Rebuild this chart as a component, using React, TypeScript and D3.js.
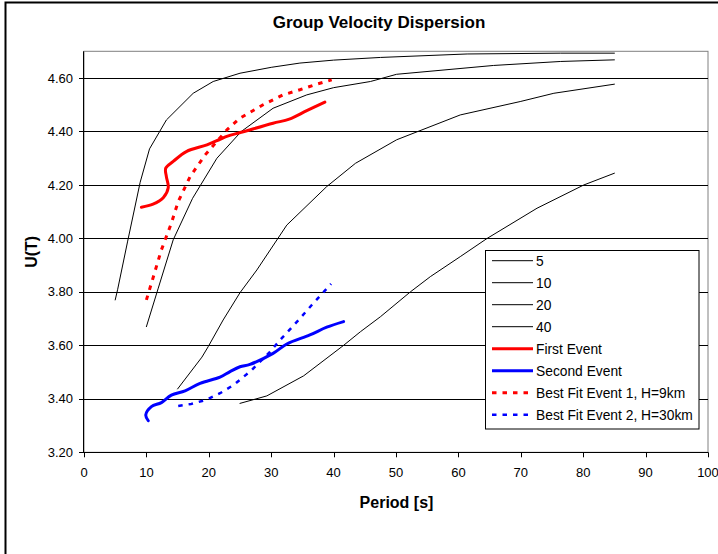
import React from "react";
import * as d3 from "d3";

// ---- data (period [s], group velocity U(T)) ----
const c5Period = [5, 5.4, 7, 9, 10.5, 13.2, 17.5, 20.7, 25, 30, 34.6, 40, 47.5, 61.4, 76.4, 85];
const c5U = [3.77, 3.81, 3.99, 4.21, 4.335, 4.443, 4.543, 4.587, 4.618, 4.64, 4.656, 4.667, 4.677, 4.69, 4.693, 4.693];

const c10Period = [10, 11.9, 14.3, 17.4, 21.3, 25.2, 30.3, 35.7, 40, 45.9, 50.1, 65.6, 76.4, 85];
const c10U = [3.67, 3.814, 3.995, 4.15, 4.3, 4.4, 4.487, 4.537, 4.564, 4.587, 4.614, 4.647, 4.662, 4.668];

const c20Period = [15, 18.9, 19.9, 22.3, 25, 27.7, 32.5, 38.9, 43.5, 50.1, 60.3, 69.9, 75.3, 85];
const c20U = [3.437, 3.556, 3.595, 3.695, 3.797, 3.882, 4.05, 4.194, 4.281, 4.369, 4.462, 4.512, 4.543, 4.577];

const c40Period = [25, 29.3, 35.2, 41.6, 44.3, 47.5, 52.3, 55.5, 60.3, 64.6, 72.6, 80.1, 85];
const c40U = [3.383, 3.411, 3.486, 3.6, 3.651, 3.707, 3.8, 3.857, 3.932, 4.0, 4.113, 4.2, 4.244];

const ev1Period = [9.2, 11.07, 12.7, 13.5, 13.2, 13.1, 14.3, 16.4, 19.7, 21.8, 23, 25.2, 30.3, 32.9, 35.7, 38.6];
const ev1U = [4.117, 4.128, 4.152, 4.19, 4.231, 4.263, 4.288, 4.325, 4.35, 4.371, 4.383, 4.397, 4.431, 4.446, 4.478, 4.51];

const ev2Period = [10.3, 9.9, 10.8, 12.4, 14, 16.2, 18.6, 21.8, 23.4, 25, 26.6, 30.3, 32.5, 36.2, 38.9, 41.6];
const ev2U = [3.318, 3.34, 3.371, 3.386, 3.414, 3.43, 3.458, 3.481, 3.502, 3.52, 3.529, 3.57, 3.605, 3.639, 3.668, 3.689];

const fit1Period = [10, 11.2, 12.4, 13.2, 14, 15.1, 17, 19.4, 22.9, 25, 28.7, 31.9, 34.6, 37.3, 39.7];
const fit1U = [3.77, 3.863, 3.957, 4.007, 4.057, 4.138, 4.231, 4.312, 4.406, 4.45, 4.5, 4.537, 4.556, 4.577, 4.593];

const fit2Period = [15.1, 17.2, 19.6, 21.8, 24, 26.9, 29.8, 31.7, 34.4, 36.5, 39.6];
const fit2U = [3.373, 3.381, 3.396, 3.421, 3.452, 3.508, 3.576, 3.627, 3.695, 3.751, 3.83];

const xTicks = [0, 10, 20, 30, 40, 50, 60, 70, 80, 90, 100];
const yTicks = [3.2, 3.4, 3.6, 3.8, 4.0, 4.2, 4.4, 4.6];
const legendLabels = ["5", "10", "20", "40", "First Event", "Second Event", "Best Fit Event 1, H=9km", "Best Fit Event 2, H=30km"];

const FONT = "Arial, 'Liberation Sans', Helvetica, sans-serif";

type Series = { xs: number[]; ys: number[]; color: string; width: number; dash?: string; smooth?: boolean };

export default function App() {
  const W = 718, H = 554;
  const x = d3.scaleLinear().domain([0, 100]).range([84, 708]);
  const y = d3.scaleLinear().domain([3.2, 4.7]).range([452.3, 51.3]);

  const series: Series[] = [
    { xs: c5Period, ys: c5U, color: "#000", width: 1 },
    { xs: c10Period, ys: c10U, color: "#000", width: 1 },
    { xs: c20Period, ys: c20U, color: "#000", width: 1 },
    { xs: c40Period, ys: c40U, color: "#000", width: 1 },
    { xs: ev1Period, ys: ev1U, color: "#FF0000", width: 3, smooth: true },
    { xs: ev2Period, ys: ev2U, color: "#0000FF", width: 3, smooth: true },
    { xs: fit1Period, ys: fit1U, color: "#FF0000", width: 3, dash: "4.5 6" },
    { xs: fit2Period, ys: fit2U, color: "#0000FF", width: 2.5, dash: "4.5 6" },
  ];

  const mkLine = (s: Series) => {
    const pts = s.xs.map((v, i) => [x(v), y(s.ys[i])] as [number, number]);
    const g = d3.line().curve(s.smooth ? d3.curveCatmullRom.alpha(0.5) : d3.curveLinear);
    return g(pts) || "";
  };

  const [x0, x1] = x.range();
  const [yb, yt] = y.range();

  const legX = 485.5, legY = 250.5, legW = 213.5, legH = 178.5;

  return (
    <svg width={W} height={H} style={{ position: "absolute", left: 0, top: 0, background: "#fff" }} fontFamily={FONT}>
      <rect x={0} y={0} width={W} height={H} fill="#fff" />
      {/* outer chart border */}
      <rect x={5.5} y={2.5} width={760} height={600} fill="none" stroke="#000" strokeWidth={2} />
      {/* title */}
      <text x={379} y={28} textAnchor="middle" fontSize={17} fontWeight="bold">Group Velocity Dispersion</text>

      {/* plot area frame */}
      <rect x={x0} y={yt} width={x1 - x0} height={yb - yt} fill="#fff" stroke="#808080" strokeWidth={1} />
      {/* gridlines */}
      {yTicks.filter(t => t > 3.2).map(t => (
        <line key={"g" + t} x1={x0} x2={x1} y1={Math.round(y(t)) + 0.5} y2={Math.round(y(t)) + 0.5} stroke="#000" strokeWidth={1} />
      ))}

      {/* series */}
      {series.map((s, i) => (
        <path key={"s" + i} d={mkLine(s)} fill="none" stroke={s.color} strokeWidth={s.width}
          strokeDasharray={s.dash} strokeLinejoin="round" strokeLinecap={s.dash ? "butt" : "round"} />
      ))}

      {/* axes */}
      <line x1={x0 - 0.5} x2={x0 - 0.5} y1={yt} y2={yb} stroke="#000" strokeWidth={1} />
      <line x1={x0} x2={x1} y1={Math.round(yb) + 0.5} y2={Math.round(yb) + 0.5} stroke="#000" strokeWidth={1} />
      {yTicks.map(t => (
        <g key={"yt" + t}>
          <line x1={x0 - 5} x2={x0} y1={Math.round(y(t)) + 0.5} y2={Math.round(y(t)) + 0.5} stroke="#000" />
          <text x={73} y={y(t)} dy="0.35em" textAnchor="end" fontSize={13}>{t.toFixed(2)}</text>
        </g>
      ))}
      {xTicks.map(t => (
        <g key={"xt" + t}>
          <line x1={Math.round(x(t)) + 0.5} x2={Math.round(x(t)) + 0.5} y1={yb} y2={yb + 5} stroke="#000" />
          <text x={x(t)} y={476.5} textAnchor="middle" fontSize={13}>{t}</text>
        </g>
      ))}

      {/* axis titles */}
      <text x={396.5} y={507.5} textAnchor="middle" fontSize={16} fontWeight="bold">Period [s]</text>
      <text transform={`translate(37,${(yt + yb) / 2}) rotate(-90)`} textAnchor="middle" fontSize={16} fontWeight="bold">U(T)</text>

      {/* legend */}
      <rect x={legX} y={legY} width={legW} height={legH} fill="#fff" stroke="#000" strokeWidth={1} />
      {legendLabels.map((lab, i) => {
        const s = series[i];
        const cy = 260.7 + i * 22;
        return (
          <g key={"l" + i}>
            <line x1={492} x2={533} y1={cy} y2={cy} stroke={s.color} strokeWidth={s.width} strokeDasharray={s.dash} />
            <text x={536} y={cy} dy="0.35em" fontSize={13.8}>{lab}</text>
          </g>
        );
      })}
    </svg>
  );
}
